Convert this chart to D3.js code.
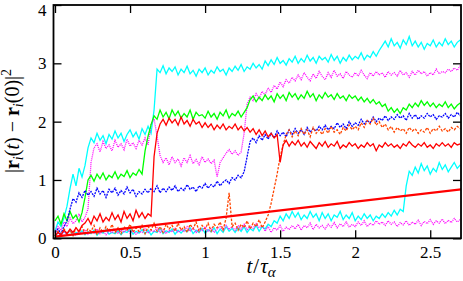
<!DOCTYPE html>
<html>
<head>
<meta charset="utf-8">
<title>msd trajectories</title>
<script src="https://cdnjs.cloudflare.com/ajax/libs/d3/7.8.5/d3.min.js"></script>
<style>
  body { margin: 0; background: #fff; }
</style>
</head>
<body>
<script>

// sampling step of the trajectories, in units of t/tau_alpha
const dt = 0.02;

// single-particle squared displacements (one value every dt)
const cyanHigh = [0.12,0.28,0.2,0.35,0.55,0.85,1.1,0.9,1.2,1.05,
  1.25,1.55,1.72,1.64,1.8,1.68,1.76,1.62,1.78,1.7,
  1.84,1.72,1.8,1.66,1.78,1.86,1.74,1.82,1.7,1.88,
  1.78,1.92,1.8,2.2,2.9,2.84,2.96,2.82,2.92,2.86,
  2.94,2.8,2.9,2.84,2.95,2.82,2.88,2.78,2.9,2.84,
  2.92,2.8,2.88,2.83,2.94,2.86,2.9,2.8,2.92,2.86,
  2.95,2.88,2.98,2.86,2.94,2.9,3.0,2.92,2.98,2.9,
  3.04,2.96,3.06,2.98,3.1,3.0,3.05,2.97,3.08,3.02,
  3.12,3.0,3.08,3.02,3.14,3.04,3.1,3.0,3.12,3.06,
  3.1,3.02,3.15,3.05,3.12,3.0,3.1,3.04,3.14,3.06,
  3.12,3.08,3.18,3.06,3.14,3.1,3.2,3.12,3.22,3.3,
  3.38,3.28,3.42,3.3,3.36,3.26,3.4,3.32,3.46,3.3,
  3.38,3.28,3.36,3.24,3.34,3.3,3.4,3.28,3.36,3.3,
  3.42,3.32,3.38,3.28,3.36,3.4];
const magentaHigh = [0.1,0.2,0.14,0.28,0.2,0.35,0.25,0.3,0.42,0.28,
  0.36,0.5,1.3,1.55,1.62,1.48,1.66,1.54,1.6,1.5,
  1.68,1.56,1.62,1.52,1.7,1.58,1.64,1.54,1.68,1.6,
  1.72,1.6,1.95,2.05,1.75,1.42,1.3,1.38,1.26,1.4,
  1.3,1.36,1.24,1.38,1.3,1.42,1.28,1.35,1.26,1.4,
  1.3,1.36,1.28,1.34,1.05,1.3,1.38,1.46,1.52,1.44,
  1.5,1.42,1.48,1.8,2.3,2.42,2.36,2.48,2.4,2.52,
  2.46,2.58,2.5,2.62,2.56,2.68,2.6,2.72,2.66,2.76,
  2.7,2.8,2.72,2.84,2.76,2.7,2.82,2.74,2.86,2.78,
  2.72,2.84,2.76,2.88,2.78,2.82,2.74,2.86,2.8,2.76,
  2.84,2.78,2.88,2.8,2.74,2.84,2.78,2.86,2.8,2.84,
  2.76,2.86,2.8,2.84,2.78,2.88,2.8,2.84,2.76,2.86,
  2.8,2.88,2.82,2.86,2.78,2.84,2.8,2.9,2.82,2.86,
  2.84,2.9,2.86,2.92,2.88,2.96];
const green = [0.3,0.38,0.24,0.42,0.3,0.46,0.34,0.4,0.28,0.44,
  0.7,1.0,1.08,0.98,1.1,1.02,1.12,1.0,1.08,1.04,
  1.14,1.02,1.1,1.06,1.16,1.04,1.12,1.08,1.18,1.1,
  1.5,1.75,1.95,2.1,2.04,2.2,2.08,2.16,2.05,2.2,
  2.1,2.18,2.06,2.14,2.08,2.2,2.04,2.16,2.1,2.12,
  2.06,2.18,2.08,2.14,2.04,2.16,2.1,2.2,2.06,2.14,
  2.1,2.18,2.08,2.16,2.24,2.38,2.44,2.34,2.42,2.36,
  2.46,2.38,2.44,2.34,2.48,2.4,2.46,2.36,2.5,2.42,
  2.48,2.38,2.46,2.4,2.52,2.42,2.48,2.36,2.46,2.4,
  2.5,2.42,2.46,2.38,2.48,2.4,2.44,2.36,2.46,2.4,
  2.44,2.36,2.42,2.34,2.4,2.32,2.38,2.3,2.34,2.26,
  2.3,2.18,2.24,2.16,2.22,2.14,2.24,2.2,2.3,2.24,
  2.32,2.26,2.36,2.28,2.34,2.26,2.32,2.24,2.3,2.26,
  2.34,2.24,2.3,2.22,2.28,2.32];
const blue = [0.1,0.16,0.08,0.2,0.3,0.5,0.68,0.62,0.78,0.7,
  0.82,0.74,0.8,0.72,0.86,0.76,0.82,0.7,0.84,0.78,
  0.86,0.74,0.82,0.76,0.88,0.78,0.84,0.72,0.8,0.76,
  0.84,0.78,0.86,0.8,0.9,0.78,0.86,0.8,0.88,0.82,
  0.9,0.8,0.86,0.82,0.92,0.84,0.88,0.8,0.9,0.86,
  0.94,0.86,0.92,0.88,0.98,0.9,0.96,1.0,0.94,1.04,
  1.0,1.08,1.04,1.14,1.4,1.66,1.72,1.64,1.76,1.68,
  1.78,1.7,1.8,1.72,1.84,1.76,1.82,1.74,1.86,1.78,
  1.88,1.8,1.86,1.78,1.9,1.82,1.88,1.84,1.92,1.86,
  1.94,1.86,1.92,1.88,1.98,1.9,1.96,1.88,2.0,1.92,
  1.98,1.94,2.04,1.96,2.02,1.98,2.08,2.0,2.06,2.02,
  2.1,2.02,2.08,2.04,2.12,2.06,2.1,2.02,2.14,2.06,
  2.12,2.04,2.1,2.06,2.14,2.08,2.12,2.04,2.1,2.08,
  2.14,2.06,2.12,2.08,2.16,2.1];
const red = [0.04,0.1,0.06,0.14,0.08,0.16,0.1,0.18,0.12,0.22,
  0.26,0.34,0.24,0.38,0.3,0.42,0.28,0.36,0.3,0.44,
  0.32,0.4,0.28,0.46,0.34,0.42,0.3,0.48,0.36,0.44,
  0.34,0.42,0.38,1.4,1.8,1.96,2.04,1.94,2.06,1.98,
  2.04,1.94,2.08,1.96,2.02,1.92,2.04,1.96,2.0,1.9,
  1.98,1.9,1.96,1.86,1.94,1.88,1.96,1.86,1.92,1.88,
  1.96,1.86,1.92,1.84,1.9,1.82,1.88,1.78,1.86,1.76,
  1.84,1.74,1.8,1.72,1.78,1.3,1.6,1.68,1.58,1.66,
  1.6,1.68,1.58,1.64,1.56,1.66,1.6,1.54,1.64,1.58,
  1.66,1.56,1.62,1.58,1.66,1.54,1.6,1.56,1.64,1.58,
  1.62,1.54,1.6,1.56,1.64,1.58,1.62,1.5,1.6,1.56,
  1.64,1.58,1.62,1.56,1.6,1.54,1.62,1.58,1.66,1.6,
  1.56,1.62,1.58,1.64,1.56,1.6,1.54,1.62,1.58,1.64,
  1.58,1.62,1.56,1.64,1.6,1.62];
const orange = [0.04,0.12,0.06,0.16,0.08,0.14,0.05,0.18,0.1,0.2,
  0.08,0.16,0.12,0.22,0.06,0.18,0.1,0.2,0.12,0.24,
  0.1,0.18,0.08,0.2,0.14,0.24,0.1,0.18,0.12,0.22,
  0.08,0.2,0.14,0.26,0.12,0.2,0.1,0.24,0.16,0.22,
  0.12,0.26,0.14,0.2,0.1,0.24,0.16,0.28,0.12,0.22,
  0.16,0.26,0.12,0.24,0.18,0.28,0.14,0.35,0.78,0.2,
  0.26,0.14,0.24,0.18,0.3,0.16,0.26,0.2,0.32,0.18,
  0.28,0.4,0.6,0.85,1.1,1.4,1.6,1.78,1.86,1.74,
  1.84,1.76,1.88,1.78,1.86,1.74,1.9,1.8,1.86,1.78,
  1.88,1.8,1.92,1.82,1.86,1.78,1.9,1.84,1.94,1.86,
  1.92,1.86,1.98,1.9,2.02,1.96,2.06,1.94,2.0,1.9,
  1.96,1.86,1.92,1.82,1.9,1.84,1.88,1.8,1.9,1.84,
  1.88,1.8,1.86,1.82,1.9,1.8,1.88,1.84,1.92,1.84,
  1.88,1.82,1.9,1.86,1.92,1.88];
const cyanLow = [0.04,0.1,0.06,0.12,0.07,0.14,0.05,0.1,0.08,0.13,
  0.06,0.11,0.08,0.14,0.05,0.12,0.09,0.15,0.07,0.1,
  0.08,0.13,0.06,0.12,0.1,0.16,0.07,0.12,0.09,0.15,
  0.08,0.14,0.06,0.12,0.1,0.17,0.08,0.13,0.1,0.16,
  0.07,0.14,0.09,0.15,0.11,0.18,0.08,0.14,0.1,0.17,
  0.09,0.15,0.11,0.18,0.08,0.16,0.1,0.2,0.12,0.17,
  0.1,0.18,0.12,0.2,0.1,0.17,0.13,0.22,0.12,0.2,
  0.16,0.24,0.2,0.3,0.26,0.38,0.3,0.42,0.34,0.46,
  0.36,0.44,0.32,0.4,0.34,0.46,0.36,0.42,0.3,0.44,
  0.34,0.42,0.3,0.4,0.36,0.46,0.32,0.4,0.34,0.44,
  0.3,0.38,0.32,0.42,0.34,0.4,0.3,0.38,0.34,0.42,
  0.36,0.44,0.38,0.48,0.4,0.5,0.46,0.9,1.15,1.08,
  1.22,1.12,1.28,1.16,1.24,1.1,1.2,1.14,1.3,1.18,
  1.26,1.14,1.22,1.3,1.2,1.26];
const magentaLow = [0.06,0.1,0.04,0.12,0.07,0.14,0.09,0.05,0.12,0.08,
  0.15,0.07,0.12,0.09,0.16,0.08,0.13,0.06,0.12,0.1,
  0.15,0.08,0.14,0.1,0.17,0.09,0.13,0.07,0.12,0.1,
  0.16,0.09,0.14,0.11,0.18,0.1,0.15,0.08,0.14,0.11,
  0.17,0.1,0.15,0.12,0.2,0.12,0.18,0.1,0.16,0.13,
  0.2,0.12,0.17,0.1,0.16,0.2,0.14,0.22,0.15,0.2,
  0.14,0.22,0.16,0.24,0.15,0.21,0.17,0.25,0.18,0.22,
  0.12,0.2,0.1,0.18,0.14,0.22,0.12,0.19,0.15,0.22,
  0.16,0.24,0.14,0.22,0.18,0.26,0.15,0.24,0.18,0.22,
  0.16,0.24,0.19,0.27,0.18,0.25,0.2,0.28,0.19,0.24,
  0.2,0.28,0.22,0.3,0.2,0.26,0.22,0.3,0.24,0.28,
  0.22,0.3,0.24,0.28,0.2,0.27,0.23,0.3,0.22,0.28,
  0.24,0.31,0.22,0.29,0.25,0.32,0.24,0.3,0.26,0.33,
  0.25,0.31,0.27,0.34,0.28,0.32];

// straight reference line (end points)
const fitT = [0, 2.71];
const fitY = [0.03, 0.84];

const xTicks = [0, 0.5, 1, 1.5, 2, 2.5];
const yTicks = [0, 1, 2, 3, 4];

const traces = [
  { values: cyanHigh,    color: '#00ffff', dash: null },
  { values: magentaHigh, color: '#ff00ff', dash: '1,1' },
  { values: green,       color: '#00ff00', dash: null },
  { values: cyanLow,     color: '#00ffff', dash: null },
  { values: magentaLow,  color: '#ff00ff', dash: '1,1' },
  { values: blue,        color: '#0000ff', dash: '2,1' },
  { values: orange,      color: '#ff4500', dash: '2.5,1.5' },
  { values: red,         color: '#ff0000', dash: null }
];

const serif = '"Liberation Serif"';

let width = 463,
    height = 281;

let xScale = d3.scaleLinear()
    .domain([-0.01, 2.705])
    .range([53.5, 461]);

let yScale = d3.scaleLinear()
    .domain([0, 4])
    .range([238.3, 5]);

let svg = d3.select('body')
    .append('svg')
    .attr('width', width)
    .attr('height', height);

svg.append('clipPath')
    .attr('id', 'plot')
    .append('rect')
    .attr('x', 53.5)
    .attr('y', 5)
    .attr('width', 461 - 53.5)
    .attr('height', 238.3 - 5);

let line = d3.line()
    .x((d, i) => xScale(i * dt))
    .y(d => yScale(d));

svg.append('g')
    .attr('clip-path', 'url(#plot)')
    .selectAll('path')
    .data(traces)
    .enter()
    .append('path')
    .attr('d', d => line(d.values))
    .attr('fill', 'none')
    .attr('stroke', d => d.color)
    .attr('stroke-width', 1.3)
    .attr('stroke-dasharray', d => d.dash);

svg.append('path')
    .attr('clip-path', 'url(#plot)')
    .attr('d', d3.line()
        .x((d, i) => xScale(fitT[i]))
        .y(d => yScale(d))(fitY))
    .attr('fill', 'none')
    .attr('stroke', '#ff0000')
    .attr('stroke-width', 2.2);

// axes: ticks point inwards and are mirrored on top and right
let fontSize = 17;

let axBottom = svg.append('g')
    .attr('transform', 'translate(0,238.3)')
    .call(d3.axisBottom(xScale).tickValues(xTicks).tickSize(-8).tickPadding(8)
        .tickFormat(d3.format('')));
let axTop = svg.append('g')
    .attr('transform', 'translate(0,5)')
    .call(d3.axisTop(xScale).tickValues(xTicks).tickSize(-8).tickFormat(''));
let axLeft = svg.append('g')
    .attr('transform', 'translate(53.5,0)')
    .call(d3.axisLeft(yScale).tickValues(yTicks).tickSize(-8).tickPadding(7)
        .tickFormat(d3.format('d')));
let axRight = svg.append('g')
    .attr('transform', 'translate(461,0)')
    .call(d3.axisRight(yScale).tickValues(yTicks).tickSize(-8).tickFormat(''));

[axBottom, axTop, axLeft, axRight].forEach(g => {
    g.attr('font-family', serif).attr('font-size', fontSize);
    g.select('.domain').remove();
    g.selectAll('.tick line').attr('stroke', '#000').attr('stroke-width', 1.3);
    g.selectAll('.tick text').attr('fill', '#000');
});

// the top label sits a little lower, as in the picture
axLeft.selectAll('.tick text')
    .filter(d => d === 4)
    .attr('dy', '0.62em');

svg.append('rect')
    .attr('x', 53.5)
    .attr('y', 5)
    .attr('width', 461 - 53.5)
    .attr('height', 238.3 - 5)
    .attr('fill', 'none')
    .attr('stroke', '#000')
    .attr('stroke-width', 1.8);

// axis titles
let xt = svg.append('text')
    .attr('x', 261)
    .attr('y', 273)
    .attr('text-anchor', 'middle')
    .attr('font-family', serif)
    .attr('font-size', 21);
xt.append('tspan').attr('font-style', 'italic').text('t');
xt.append('tspan').attr('dx', 1).text('/');
xt.append('tspan').attr('dx', 1).attr('font-style', 'italic').text('τ');
xt.append('tspan').attr('font-style', 'italic').attr('font-size', 15).attr('dy', 4).text('α');

let yt = svg.append('text')
    .attr('transform', 'translate(19,121) rotate(-90)')
    .attr('text-anchor', 'middle')
    .attr('font-family', serif)
    .attr('font-size', 20);
yt.append('tspan').text('|');
yt.append('tspan').attr('font-weight', 'bold').text('r');
yt.append('tspan').attr('font-style', 'italic').attr('font-size', 14).attr('dy', 4).text('i');
yt.append('tspan').attr('dy', -4).text('(');
yt.append('tspan').attr('font-style', 'italic').text('t');
yt.append('tspan').text(') − ');
yt.append('tspan').attr('font-weight', 'bold').text('r');
yt.append('tspan').attr('font-style', 'italic').attr('font-size', 14).attr('dy', 4).text('i');
yt.append('tspan').attr('dy', -4).text('(0)|');
yt.append('tspan').attr('font-size', 14).attr('dy', -8).text('2');

</script>
</body>
</html>
